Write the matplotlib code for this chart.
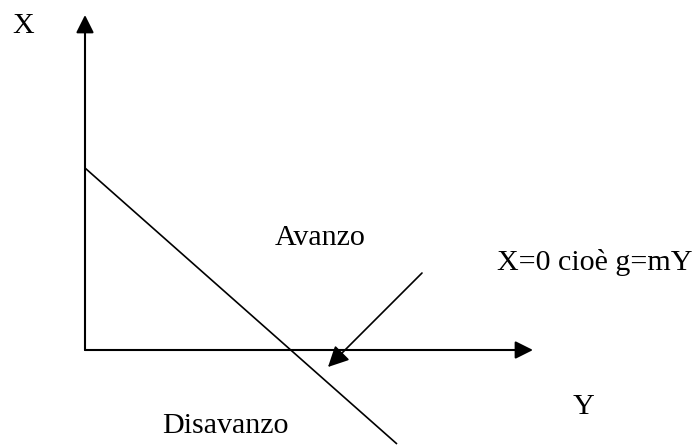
import matplotlib.pyplot as plt

# diagram geometry, in pixel units of the 700x446 picture (y grows downward)
origin = (85, 350)
x_axis_tip = (85, 15)
y_axis_tip = (533, 350)
budget_line_x = [85, 397]
budget_line_y = [168, 444]
pointer_start = (422, 273)
pointer_tip = (328, 367)

labels = ["X", "Avanzo", "X=0 cioè g=mY", "Disavanzo", "Y"]
label_x = [12, 275, 497, 162, 573]
label_y = [33, 245, 270, 433, 414]

fig = plt.figure(figsize=(7, 4.46), dpi=100)
ax = fig.add_axes([0, 0, 1, 1])
ax.set_xlim(0, 700)
ax.set_ylim(446, 0)
ax.axis('off')

axis_arrow = dict(arrowstyle='-|>,head_length=0.6,head_width=0.3',
                  mutation_scale=18, color='black', lw=1.5,
                  shrinkA=0, shrinkB=0)
ax.annotate('', xy=x_axis_tip, xytext=origin, arrowprops=axis_arrow)
ax.annotate('', xy=y_axis_tip, xytext=origin, arrowprops=axis_arrow)

ax.plot(budget_line_x, budget_line_y, color='black', lw=1.2,
        solid_capstyle='butt')

ax.annotate('', xy=pointer_tip, xytext=pointer_start,
            arrowprops=dict(arrowstyle='-|>,head_length=0.7,head_width=0.35',
                            mutation_scale=18, color='black', lw=1.2,
                            shrinkA=0, shrinkB=0))

for txt, tx, ty in zip(labels, label_x, label_y):
    ax.text(tx, ty, txt, ha='left', va='baseline',
            family='Liberation Serif', fontsize=21.6, color='black')

fig.savefig('out.png', dpi=100, facecolor='white')
